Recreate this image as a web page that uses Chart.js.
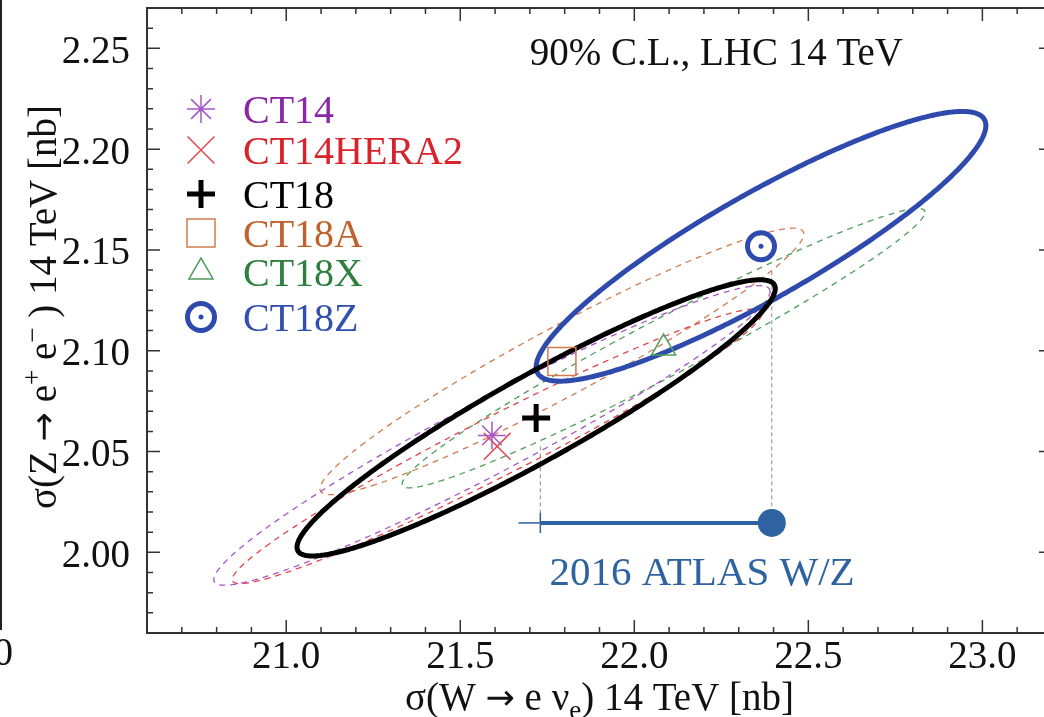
<!DOCTYPE html>
<html>
<head>
<meta charset="utf-8">
<script src="https://cdn.jsdelivr.net/npm/chart.js@4.4.1/dist/chart.umd.min.js"></script>
<style>
  html, body { margin: 0; padding: 0; background: #fff; overflow: hidden; }
  #wrap { width: 1060px; height: 717px; }
</style>
</head>
<body>
<div id="wrap"><canvas id="cl90" width="1060" height="717"></canvas></div>
<script>
// PDF sets: central W / Z predictions and their 90% C.L. ellipses (nb)
const pdfNames = ['CT14', 'CT14HERA2', 'CT18', 'CT18A', 'CT18X', 'CT18Z']
const centerW  = [21.591, 21.606, 21.718, 21.792, 22.084, 22.364]
const centerZ  = [2.058, 2.0526, 2.0667, 2.0947, 2.1013, 2.1518]
const halfW    = [0.799, 0.761, 0.687, 0.695, 0.751, 0.646]   // half extent along W
const halfZ    = [0.0743, 0.0681, 0.0685, 0.0661, 0.0693, 0.0669] // half extent along Z
const corrWZ   = [0.961, 0.970, 0.936, 0.956, 0.973, 0.895]

// 2016 ATLAS W/Z measurement
const atlasW = 22.395
const atlasZ = 2.0146
const atlasBarLow = 21.73
const atlasThinLow = 21.667
const atlasCap = 0.005

// dashed guide lines dropping to the ATLAS bar
const guideW    = [21.73, 22.395]
const guideTopZ = [2.0526, 2.1394]

const xTickLabels = ['21.0', '21.5', '22.0', '22.5', '23.0']
const yTickLabels = ['2.00', '2.05', '2.10', '2.15', '2.20', '2.25']

// styles
const lineColors  = ['#a656c8', '#e2474d', '#000000', '#d07c4e', '#4f9e5d', '#2f4aad']
const textColors  = ['#8b27a6', '#d8222c', '#000000', '#c0622d', '#2e8040', '#3350b1']
const markStyles  = ['star', 'crossRot', 'cross', 'rect', 'triangle', 'circle']
const markSizes   = [14, 19, 14, 19.8, 14, 13.5]
const markWidths  = [1.5, 1.5, 5, 1.5, 1.5, 5]
const isDashed    = [true, true, false, true, true, false]
const atlasColor  = '#2e62a0'
const serif = '"Liberation Serif", "Times New Roman", serif'
const arrowFont = '"DejaVu Sans", sans-serif'

// contour of one ellipse; solid ones run a few steps past the start so the stroke closes cleanly
const ellipse = (i) => {
  const s = Math.sqrt(1 - corrWZ[i] * corrWZ[i])
  const steps = 240
  const last = isDashed[i] ? steps : steps + 6
  const pts = []
  for (let k = 0; k <= last; k++) {
    const t = 2 * Math.PI * k / steps
    pts.push({
      x: centerW[i] + halfW[i] * Math.cos(t),
      y: centerZ[i] + halfZ[i] * (corrWZ[i] * Math.cos(t) + s * Math.sin(t))
    })
  }
  return pts
}

const datasets = []

pdfNames.forEach((name, i) => {
  datasets.push({
    label: name + ' 90% C.L.',
    data: ellipse(i),
    showLine: true,
    tension: 0.1,   // avoids the fast path that squashes points sharing a pixel column
    borderColor: lineColors[i],
    borderWidth: isDashed[i] ? 1.3 : 5,
    borderDash: isDashed[i] ? [6, 5] : [],
    borderCapStyle: isDashed[i] ? 'butt' : 'round',
    borderJoinStyle: 'round',
    pointRadius: 0,
    fill: false,
    order: isDashed[i] ? 3 : 2
  })
  datasets.push({
    label: name,
    data: [{ x: centerW[i], y: centerZ[i] }],
    pointStyle: markStyles[i],
    pointRadius: markSizes[i],
    pointBorderWidth: markWidths[i],
    pointBorderColor: lineColors[i],
    pointBackgroundColor: 'rgba(0,0,0,0)',
    order: 0
  })
})

// centre dots of the CT14 and CT18Z markers
datasets.push({
  label: 'CT14 dot',
  data: [{ x: centerW[0], y: centerZ[0] }],
  pointRadius: 2,
  pointBorderWidth: 0,
  pointBackgroundColor: lineColors[0],
  order: 0
})
datasets.push({
  label: 'CT18Z dot',
  data: [{ x: centerW[5], y: centerZ[5] }],
  pointRadius: 2.5,
  pointBorderWidth: 0,
  pointBackgroundColor: lineColors[5],
  order: 0
})

guideW.forEach((w, k) => {
  datasets.push({
    label: 'guide ' + k,
    data: [{ x: w, y: guideTopZ[k] }, { x: w, y: atlasZ }],
    showLine: true,
    borderColor: '#8a8a8a',
    borderWidth: 1,
    borderDash: [4, 3],
    pointRadius: 0,
    order: 4
  })
})

datasets.push({
  label: 'ATLAS bar',
  data: [{ x: atlasBarLow, y: atlasZ }, { x: atlasW, y: atlasZ }],
  showLine: true, borderColor: atlasColor, borderWidth: 4, pointRadius: 0, order: 1
})
datasets.push({
  label: 'ATLAS thin',
  data: [{ x: atlasThinLow, y: atlasZ }, { x: atlasBarLow, y: atlasZ }],
  showLine: true, borderColor: atlasColor, borderWidth: 1.5, pointRadius: 0, order: 1
})
datasets.push({
  label: 'ATLAS cap',
  data: [{ x: atlasBarLow, y: atlasZ - atlasCap }, { x: atlasBarLow, y: atlasZ + atlasCap }],
  showLine: true, borderColor: atlasColor, borderWidth: 1.5, pointRadius: 0, order: 1
})
datasets.push({
  label: '2016 ATLAS W/Z',
  data: [{ x: atlasW, y: atlasZ }],
  pointRadius: 14, pointBorderWidth: 0, pointBackgroundColor: atlasColor, order: 0
})

// draw a string made of normal / sub / sup / arrow pieces, centred on (cx, baseline)
const pieceFont = (p, size) => {
  if (p.arrow) return Math.round(size * 0.9) + 'px ' + arrowFont
  return (p.sub || p.sup ? Math.round(size * 0.68) : size) + 'px ' + serif
}
const richText = (ctx, parts, cx, base, size) => {
  let total = 0
  parts.forEach(p => {
    ctx.font = pieceFont(p, size)
    p.w = ctx.measureText(p.t).width
    total += p.w
  })
  let x = cx - total / 2
  parts.forEach(p => {
    ctx.font = pieceFont(p, size)
    const dy = p.sub ? size * 0.24 : p.sup ? -size * 0.38 : p.arrow ? -size * 0.02 : 0
    ctx.fillText(p.t, x, base + dy)
    x += p.w
  })
}

const framePlugin = {
  id: 'frame',
  afterDraw(chart) {
    const { ctx, chartArea: a, scales: { x, y } } = chart
    ctx.save()
    ctx.strokeStyle = '#333'
    ctx.lineWidth = 2
    ctx.strokeRect(a.left, a.top, a.right - a.left, a.bottom - a.top)

    // inward ticks on all four sides
    ctx.lineWidth = 1.5
    ctx.beginPath()
    for (let k = 206; k <= 232; k++) {
      const px = x.getPixelForValue(k / 10)
      const len = k % 5 === 0 ? 13 : 6
      ctx.moveTo(px, a.bottom); ctx.lineTo(px, a.bottom - len)
      ctx.moveTo(px, a.top); ctx.lineTo(px, a.top + len)
    }
    for (let k = 196; k <= 227; k++) {
      const py = y.getPixelForValue(k / 100)
      const len = k % 5 === 0 ? 13 : 6
      ctx.moveTo(a.left, py); ctx.lineTo(a.left + len, py)
      ctx.moveTo(a.right, py); ctx.lineTo(a.right - len, py)
    }
    ctx.stroke()

    // tick labels
    ctx.fillStyle = '#111'
    ctx.font = '39px ' + serif
    ctx.textAlign = 'center'
    ctx.textBaseline = 'alphabetic'
    xTickLabels.forEach(l => ctx.fillText(l, x.getPixelForValue(parseFloat(l)), a.bottom + 35))
    ctx.textAlign = 'right'
    yTickLabels.forEach(l => ctx.fillText(l, a.left - 17, y.getPixelForValue(parseFloat(l)) + 14.5))

    // axis titles
    ctx.textAlign = 'left'
    richText(ctx, [{ t: 'σ(W ' }, { t: '→', arrow: true }, { t: ' e ν' }, { t: 'e', sub: true }, { t: ') 14 TeV [nb]' }],
      (a.left + a.right) / 2, a.bottom + 77, 39)
    ctx.save()
    ctx.translate(56, 307)
    ctx.rotate(-Math.PI / 2)
    richText(ctx, [{ t: 'σ(Z ' }, { t: '→', arrow: true }, { t: ' e' }, { t: '+', sup: true }, { t: ' e' }, { t: '−', sup: true }, { t: ' ) 14 TeV [nb]' }],
      0, 0, 39)
    ctx.restore()

    // annotations
    ctx.font = '39px ' + serif
    ctx.textAlign = 'right'
    ctx.fillStyle = '#111'
    ctx.fillText('90% C.L., LHC 14 TeV', 903, 65)
    ctx.textAlign = 'center'
    ctx.fillStyle = atlasColor
    ctx.font = '41px ' + serif
    ctx.fillText('2016 ATLAS W/Z', 702, 585)

    // legend
    const rows = [109, 150, 194, 233, 272, 317]
    pdfNames.forEach((name, i) => {
      ctx.strokeStyle = lineColors[i]
      ctx.fillStyle = 'rgba(0,0,0,0)'
      ctx.lineWidth = markWidths[i]
      Chart.helpers.drawPoint(ctx, { pointStyle: markStyles[i], radius: markSizes[i], borderWidth: markWidths[i], rotation: 0 }, 201, rows[i])
      if (i === 0 || i === 5) {
        ctx.fillStyle = lineColors[i]
        ctx.beginPath(); ctx.arc(201, rows[i], i === 0 ? 2 : 2.5, 0, 2 * Math.PI); ctx.fill()
      }
      ctx.fillStyle = textColors[i]
      ctx.font = '40px ' + serif
      ctx.textAlign = 'left'
      ctx.fillText(name, 243, rows[i] + 14)
    })

    // edge of the neighbouring panel
    ctx.strokeStyle = '#222'
    ctx.lineWidth = 2
    ctx.beginPath(); ctx.moveTo(1, 0); ctx.lineTo(1, 630); ctx.stroke()
    ctx.fillStyle = '#111'
    ctx.font = '39px ' + serif
    ctx.textAlign = 'right'
    ctx.fillText('0', 13, 665)
    ctx.restore()
  }
}

new Chart(document.getElementById('cl90'), {
  type: 'scatter',
  data: { datasets },
  options: {
    responsive: false,
    animation: false,
    events: [],
    layout: { autoPadding: false, padding: { left: 147, top: 8, right: 8, bottom: 84 } },
    plugins: { legend: { display: false }, tooltip: { enabled: false } },
    scales: {
      x: { type: 'linear', min: 20.6, max: 23.2, display: false },
      y: { type: 'linear', min: 1.96, max: 2.27, display: false }
    }
  },
  plugins: [framePlugin]
})
</script>
</body>
</html>
